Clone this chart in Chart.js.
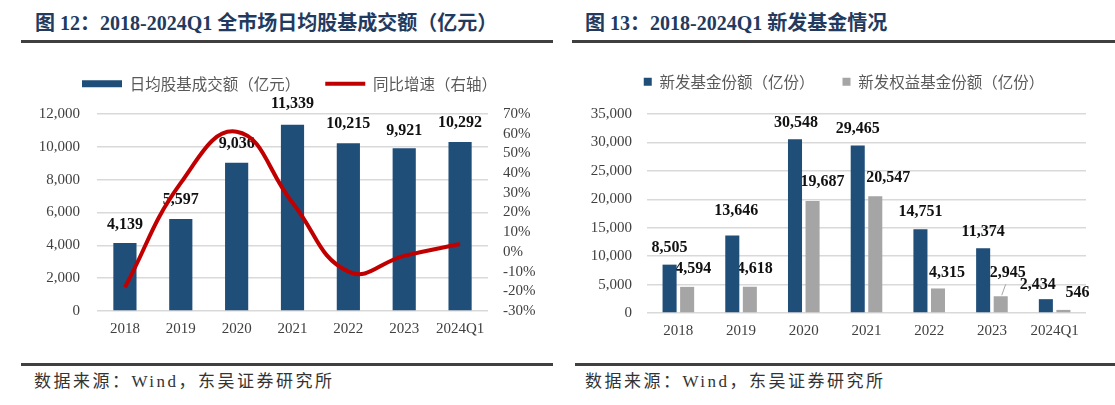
<!DOCTYPE html>
<html>
<head>
<meta charset="utf-8">
<script src="https://cdn.jsdelivr.net/npm/chart.js@4.4.1/dist/chart.umd.min.js"></script>
<style>
    body { margin: 0; width: 1115px; height: 405px; background: #fff; position: relative; overflow: hidden; font-family: "Liberation Serif", "Noto Sans CJK SC", serif; }
    .titulo { position: absolute; top: 10px; font-size: 20px; font-weight: bold; color: #223a5e; white-space: nowrap; line-height: 26px; }
    .linha { position: absolute; height: 3px; background: #404040; }
    .fonte { position: absolute; top: 370px; font-size: 17px; color: #333; letter-spacing: 2.5px; line-height: 24px; white-space: nowrap; }
    canvas { position: absolute; }
</style>
</head>
<body>
<div class="titulo" style="left:35px">图 12：2018-2024Q1 全市场日均股基成交额（亿元）</div>
<div class="linha" style="left:21px; width:532px; top:40px"></div>
<div class="titulo" style="left:585px">图 13：2018-2024Q1 新发基金情况</div>
<div class="linha" style="left:572px; width:543px; top:40px"></div>

<canvas id="graficoVolume" width="555" height="295" style="left:0; top:46px"></canvas>
<canvas id="graficoFundos" width="555" height="297" style="left:560px; top:46px"></canvas>

<div class="linha" style="left:21px; width:532px; top:363px"></div>
<div class="fonte" style="left:34px">数据来源：Wind，东吴证券研究所</div>
<div class="linha" style="left:575px; width:540px; top:363px"></div>
<div class="fonte" style="left:585px">数据来源：Wind，东吴证券研究所</div>

<script>
// dados
var anos = ['2018', '2019', '2020', '2021', '2022', '2023', '2024Q1'];
var volumeDiario = [4139, 5597, 9036, 11339, 10215, 9921, 10292];   // 亿元
var crescimento = [-18, 35, 61, 25, -10, -2, 4];                   // %
var fundosNovos = [8505, 13646, 30548, 29465, 14751, 11374, 2434];  // 亿份
var fundosAcoes = [4594, 4618, 19687, 20547, 4315, 2945, 546];      // 亿份

var corAzul = '#1F4E79';
var corCinza = '#A5A5A5';
var corVermelho = '#C00000';
var fonteEixo = { family: '"Liberation Serif", serif', size: 15 };

Chart.defaults.font.family = '"Liberation Serif", "Noto Sans CJK SC", serif';
Chart.defaults.color = '#404040';

// legenda com altura fixa (topo da area do grafico no lugar) e deslocada na horizontal
function legendaFixa(altura, desloc) {
    return {
        id: 'legendaFixa',
        afterInit: function (chart) {
            var legenda = chart.legend;
            var fitOriginal = legenda.fit;
            legenda.fit = function () {
                fitOriginal.call(this);
                this.height = altura;
            };
        },
        afterLayout: function (chart) {
            chart.legend.left += desloc;
            chart.legend.right += desloc;
        }
    };
}

// rotulos de valor em cima das barras (desenhados antes da linha)
function rotulos(config) {
    return {
        id: 'rotulos',
        afterDatasetDraw: function (chart, args) {
            var cfg = config[args.index];
            if (!cfg) return;
            var ctx = chart.ctx;
            var valores = chart.data.datasets[args.index].data;
            ctx.save();
            ctx.font = 'bold 16px "Liberation Serif"';
            ctx.fillStyle = '#111';
            ctx.textAlign = 'center';
            ctx.textBaseline = 'middle';
            args.meta.data.forEach(function (barra, i) {
                var x = barra.x + (cfg.dx ? cfg.dx[i] : 0);
                var y = barra.y - (cfg.dy ? cfg.dy[i] : 19);
                ctx.fillText(valores[i].toLocaleString('en-US'), x, y);
                if (cfg.guia && cfg.guia[i]) {
                    ctx.strokeStyle = '#A5A5A5';
                    ctx.lineWidth = 1;
                    ctx.beginPath();
                    ctx.moveTo(x - 2, y + 11);
                    ctx.lineTo(barra.x + 1, barra.y - 1);
                    ctx.stroke();
                }
            });
            ctx.restore();
        }
    };
}

///GRAFICO 12\\\
new Chart(document.getElementById('graficoVolume'), {
    type: 'bar',
    data: {
        labels: anos,
        datasets: [
            {
                label: '日均股基成交额（亿元）',
                data: volumeDiario,
                backgroundColor: corAzul,
                yAxisID: 'y',
                order: 1,
                barPercentage: 0.83,
                categoryPercentage: 0.5
            },
            {
                type: 'line',
                label: '同比增速（右轴）',
                data: crescimento,
                borderColor: corVermelho,
                backgroundColor: corVermelho,
                borderWidth: 4,
                pointRadius: 0,
                tension: 0.45,
                yAxisID: 'y1',
                order: 0
            }
        ]
    },
    plugins: [legendaFixa(63, 12), rotulos({ 0: { dy: [18, 19, 19, 21, 19, 17, 19] } })],
    options: {
        responsive: false,
        animation: false,
        layout: { padding: { top: 5 } },
        plugins: {
            tooltip: { enabled: false },
            legend: {
                labels: {
                    usePointStyle: true,
                    pointStyleWidth: 40,
                    boxHeight: 7,
                    padding: 25,
                    color: '#595959',
                    font: { family: '"Noto Sans CJK SC"', size: 15.5 },
                    sort: function (a, b) { return a.datasetIndex - b.datasetIndex; },
                    generateLabels: function (chart) {
                        var itens = Chart.defaults.plugins.legend.labels.generateLabels(chart);
                        itens.forEach(function (item) {
                            if (item.datasetIndex === 0) {
                                item.pointStyle = 'rect';
                                item.lineWidth = 0;
                            } else {
                                item.pointStyle = 'line';
                                item.lineWidth = 4;
                                item.strokeStyle = corVermelho;
                            }
                        });
                        return itens;
                    }
                }
            }
        },
        scales: {
            x: {
                grid: { display: false, drawTicks: false },
                border: { display: false },
                ticks: { font: fonteEixo, padding: 9 },
                afterFit: function (escala) { escala.height = 30; }
            },
            y: {
                position: 'left',
                min: 0,
                max: 12000,
                ticks: {
                    stepSize: 2000,
                    font: fonteEixo,
                    padding: 17,
                    callback: function (v) { return v.toLocaleString('en-US'); }
                },
                grid: { color: '#D9D9D9', lineWidth: 1.5, drawTicks: false },
                border: { display: false },
                afterFit: function (escala) { escala.width = 97; }
            },
            y1: {
                position: 'right',
                min: -30,
                max: 70,
                ticks: {
                    stepSize: 10,
                    autoSkip: false,
                    font: fonteEixo,
                    padding: 15,
                    callback: function (v) { return v + '%'; }
                },
                grid: { display: false, drawTicks: false },
                border: { display: false },
                afterFit: function (escala) { escala.width = 67; }
            }
        }
    }
});

///GRAFICO 13\\\
new Chart(document.getElementById('graficoFundos'), {
    type: 'bar',
    data: {
        labels: anos,
        datasets: [
            {
                label: '新发基金份额（亿份）',
                data: fundosNovos,
                backgroundColor: corAzul,
                barPercentage: 0.8,
                categoryPercentage: 0.56
            },
            {
                label: '新发权益基金份额（亿份）',
                data: fundosAcoes,
                backgroundColor: corCinza,
                barPercentage: 0.8,
                categoryPercentage: 0.56
            }
        ]
    },
    plugins: [legendaFixa(68, 21), rotulos({
        0: { dx: [0, 4, 1, 0, 0, 0, -8], dy: [17, 25, 16, 17, 17, 16, 14] },
        1: { dx: [6, 5, 10, 13, 9, 7, 14], dy: [18, 18, 19, 18, 16, 23, 17], guia: [0, 0, 0, 0, 0, 1, 0] }
    })],
    options: {
        responsive: false,
        animation: false,
        layout: { padding: { right: 29 } },
        plugins: {
            tooltip: { enabled: false },
            legend: {
                labels: {
                    boxWidth: 8,
                    boxHeight: 8,
                    padding: 28,
                    color: '#595959',
                    font: { family: '"Noto Sans CJK SC"', size: 15.5 }
                }
            }
        },
        scales: {
            x: {
                grid: { display: false, drawTicks: false },
                border: { display: false },
                ticks: { font: fonteEixo, padding: 9 },
                afterFit: function (escala) { escala.height = 30; }
            },
            y: {
                min: 0,
                max: 35000,
                ticks: {
                    stepSize: 5000,
                    font: fonteEixo,
                    padding: 15,
                    callback: function (v) { return v.toLocaleString('en-US'); }
                },
                grid: { color: '#D9D9D9', lineWidth: 1.5, drawTicks: false },
                border: { display: false },
                afterFit: function (escala) { escala.width = 87; }
            }
        }
    }
});
</script>
</body>
</html>
